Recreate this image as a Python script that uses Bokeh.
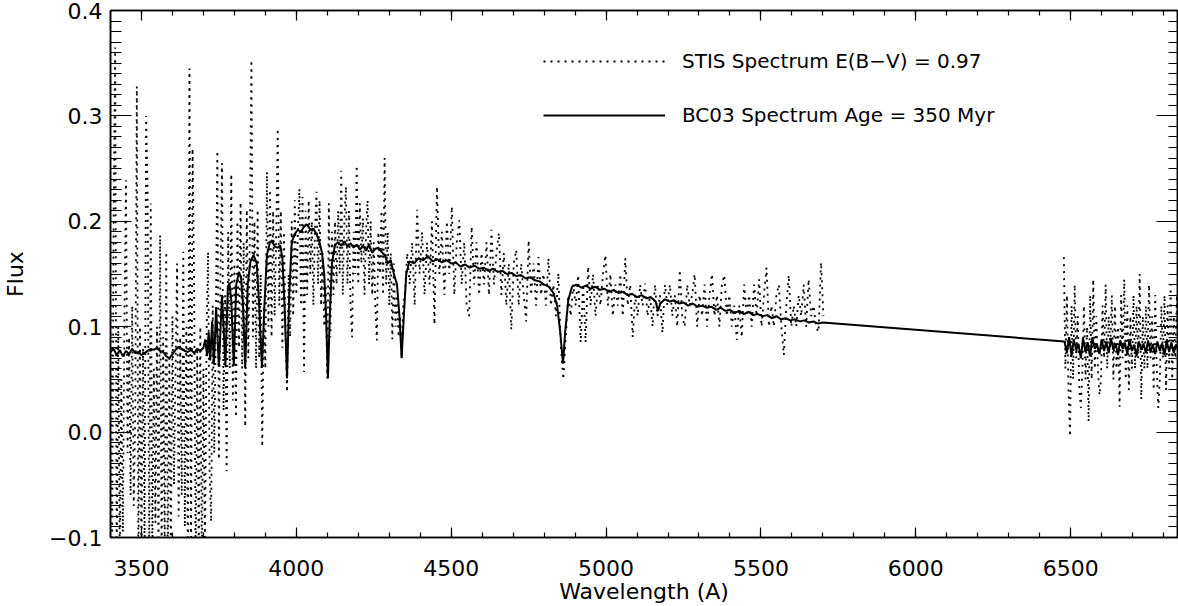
import numpy as np
from bokeh.plotting import figure
from bokeh.models import (LinearAxis, SingleIntervalTicker, Legend, LegendItem,
                          CustomJSTickFormatter)
from bokeh.embed import file_html
from bokeh.resources import INLINE

# ---------------- data ----------------
# STIS spectrum: fluxes on uniform pixel grids (start wavelength, step in A)
stis_seg1_start, stis_seg1_step = 3400, 5
stis_seg1_flux = [
    0.12, -0.13, 0.20, 0.365, -0.13, 0.10, -0.12, 0.05, -0.095, 0.11,
    0.239, -0.02, 0.09, -0.06, 0.12, -0.07, 0.02, 0.328, -0.13, 0.10,
    -0.12, 0.08, -0.11, 0.300, 0.227, -0.13, 0.217, -0.12, 0.06, -0.086,
    0.10, -0.13, 0.187, -0.12, 0.09, -0.11, 0.171, -0.13, 0.07, -0.12,
    0.11, -0.05, 0.06, 0.160, -0.08, 0.09, -0.06, 0.171, -0.09, 0.10,
    -0.13, 0.345, -0.12, 0.269, 0.141, -0.13, 0.08, -0.12, 0.10, -0.13,
    0.06, -0.11, 0.09, 0.171, -0.04, -0.085, 0.12, -0.02, 0.10, 0.267,
]
stis_seg2_start, stis_seg2_step = 3750, 5
stis_seg2_flux = [
    -0.026, 0.15, 0.255, 0.02, 0.13, -0.037, 0.19, 0.06, 0.245, 0.03,
    0.16, 0.014, 0.20, 0.08, 0.218, 0.06, 0.18, 0.005, 0.211, 0.07,
    0.19, 0.353, 0.09, 0.20, 0.06, 0.211, 0.07, 0.15, -0.014, 0.12,
    0.06, 0.247, 0.10, 0.23, 0.09, 0.21, 0.11, 0.19, 0.288, 0.12,
    0.21, 0.08, 0.19, 0.10, 0.038, 0.15, 0.09, 0.20, 0.11, 0.22,
    0.13, 0.19, 0.231, 0.12, 0.223, 0.057, 0.21, 0.13, 0.22, 0.15,
    0.20, 0.12, 0.19, 0.228, 0.14, 0.22, 0.12, 0.17, 0.10, 0.14,
    0.051, 0.217, 0.09, 0.19, 0.13, 0.20, 0.14, 0.21, 0.15, 0.248,
    0.13, 0.20, 0.233, 0.14, 0.21, 0.12, 0.09, 0.19, 0.15, 0.253,
    0.14, 0.217, 0.16, 0.203, 0.13, 0.19, 0.22, 0.14, 0.20, 0.13,
    0.18, 0.12, 0.087, 0.19, 0.15, 0.21, 0.13, 0.26, 0.14, 0.19,
    0.12, 0.17, 0.088, 0.16, 0.10, 0.13, 0.09, 0.11, 0.07, 0.12,
]
stis_seg3_start, stis_seg3_step = 4350, 8
stis_seg3_flux = [
    0.13, 0.17, 0.14, 0.18, 0.12, 0.211, 0.15, 0.19, 0.13, 0.18,
    0.14, 0.20, 0.102, 0.233, 0.15, 0.19, 0.13, 0.20, 0.15, 0.214,
    0.13, 0.18, 0.201, 0.14, 0.18, 0.12, 0.11, 0.195, 0.14, 0.18,
    0.13, 0.17, 0.14, 0.18, 0.13, 0.192, 0.14, 0.17, 0.189, 0.13,
    0.17, 0.12, 0.16, 0.097, 0.16, 0.173, 0.12, 0.16, 0.13, 0.105,
    0.182, 0.13, 0.16, 0.12, 0.166, 0.13, 0.15, 0.12, 0.165, 0.12,
    0.14, 0.11, 0.151, 0.08, 0.05, 0.09, 0.13, 0.11, 0.14, 0.12,
    0.149, 0.085, 0.14, 0.085, 0.157, 0.12, 0.15, 0.11, 0.14, 0.12,
    0.15, 0.168, 0.12, 0.15, 0.11, 0.14, 0.12, 0.15, 0.11, 0.165,
    0.12, 0.14, 0.09, 0.13, 0.11, 0.14, 0.12, 0.141, 0.11, 0.13,
    0.10, 0.14, 0.11, 0.13, 0.094, 0.14, 0.12, 0.14, 0.11, 0.13,
    0.10, 0.154, 0.11, 0.10, 0.14, 0.12, 0.13, 0.15, 0.10, 0.13,
    0.11, 0.14, 0.10, 0.13, 0.15, 0.11, 0.13, 0.10, 0.14, 0.149,
    0.11, 0.13, 0.10, 0.12, 0.0875, 0.12, 0.09, 0.14, 0.11, 0.13,
    0.10, 0.14, 0.11, 0.145, 0.10, 0.13, 0.156, 0.10, 0.12, 0.10,
    0.13, 0.14, 0.10, 0.073, 0.12, 0.149, 0.10, 0.12, 0.10, 0.13,
    0.11, 0.14, 0.10, 0.145, 0.11, 0.12, 0.10, 0.095, 0.161, 0.11,
]
stis_red_start, stis_red_step = 6478, 5
stis_red_flux = [
    0.166, 0.06, 0.13, 0.04, -0.004, 0.12, 0.05, 0.14, 0.07, 0.11,
    0.04, 0.023, 0.06, 0.12, 0.05, 0.10, 0.010, 0.13, 0.05, 0.145,
    0.06, 0.11, 0.06, 0.035, 0.05, 0.12, 0.07, 0.14, 0.06, 0.11,
    0.08, 0.13, 0.05, 0.12, 0.06, 0.10, 0.024, 0.13, 0.07, 0.145,
    0.05, 0.12, 0.04, 0.11, 0.06, 0.13, 0.06, 0.12, 0.07, 0.15,
    0.031, 0.11, 0.06, 0.12, 0.06, 0.14, 0.07, 0.11, 0.04, 0.13,
    0.06, 0.023, 0.05, 0.12, 0.07, 0.13, 0.04, 0.12, 0.06, 0.14,
    0.05, 0.11, 0.07, 0.13, 0.06,
]

# BC03 model spectrum (wavelength, flux)
bc03_wave = [
    3400, 3410, 3420, 3430, 3440, 3450, 3460, 3470, 3480, 3490,
    3500, 3510, 3520, 3530, 3540, 3550, 3560, 3570, 3580, 3590,
    3600, 3610, 3620, 3630, 3640, 3650, 3660, 3670, 3680, 3690,
    3700, 3706, 3712, 3717, 3722, 3728, 3734, 3741, 3750, 3760,
    3771, 3779, 3784, 3790, 3798, 3806, 3815, 3822, 3828, 3835,
    3843, 3852, 3862, 3872, 3880, 3889, 3897, 3905, 3915, 3922,
    3930, 3940, 3948, 3955, 3962, 3970, 3977, 3985, 3995, 4005,
    4015, 4025, 4035, 4045, 4055, 4065, 4075, 4083, 4090, 4096,
    4102, 4108, 4115, 4125, 4135, 4145, 4155, 4165, 4175, 4185,
    4195, 4205, 4215, 4225, 4235, 4245, 4255, 4265, 4275, 4285,
    4295, 4305, 4315, 4325, 4333, 4340, 4347, 4355, 4365, 4380,
    4395, 4410, 4425, 4440, 4455, 4470, 4485, 4500, 4515, 4530,
    4545, 4560, 4575, 4590, 4605, 4620, 4635, 4650, 4665, 4680,
    4695, 4710, 4725, 4740, 4755, 4770, 4785, 4800, 4815, 4830,
    4842, 4852, 4861, 4868, 4878, 4890, 4905, 4920, 4935, 4950,
    4965, 4980, 4995, 5010, 5025, 5040, 5055, 5070, 5085, 5100,
    5115, 5130, 5145, 5160, 5168, 5175, 5190, 5205, 5220, 5235,
    5250, 5265, 5280, 5295, 5310, 5325, 5340, 5355, 5370, 5385,
    5400, 5415, 5430, 5445, 5460, 5475, 5490, 5505, 5520, 5535,
    5550, 5565, 5580, 5595, 5610, 5625, 5640, 5655, 5670, 5685,
    5700, 6480, 6488, 6495, 6503, 6510, 6518, 6525, 6533, 6540,
    6548, 6555, 6563, 6570, 6578, 6585, 6593, 6600, 6608, 6615,
    6623, 6630, 6638, 6645, 6653, 6660, 6668, 6675, 6683, 6690,
    6698, 6705, 6713, 6720, 6728, 6735, 6743, 6750, 6758, 6765,
    6773, 6780, 6788, 6795, 6803, 6810, 6818, 6825, 6833, 6840,
    6848,
]
bc03_flux = [
    0.076, 0.079, 0.073, 0.078, 0.072, 0.077, 0.074, 0.079, 0.075, 0.076,
    0.073, 0.075, 0.077, 0.079, 0.078, 0.080, 0.077, 0.076, 0.072, 0.070,
    0.074, 0.078, 0.081, 0.079, 0.077, 0.076, 0.078, 0.075, 0.079, 0.077,
    0.080, 0.088, 0.072, 0.095, 0.068, 0.105, 0.064, 0.118, 0.062, 0.130,
    0.063, 0.138, 0.141, 0.125, 0.063, 0.140, 0.152, 0.145, 0.120, 0.061,
    0.140, 0.162, 0.168, 0.160, 0.120, 0.061, 0.120, 0.168, 0.180, 0.182,
    0.176, 0.175, 0.177, 0.165, 0.120, 0.051, 0.130, 0.180, 0.188, 0.192,
    0.190, 0.195, 0.197, 0.192, 0.193, 0.188, 0.180, 0.170, 0.150, 0.110,
    0.051, 0.110, 0.160, 0.178, 0.180, 0.177, 0.181, 0.176, 0.179, 0.175,
    0.178, 0.173, 0.177, 0.172, 0.178, 0.170, 0.174, 0.175, 0.171, 0.168,
    0.160, 0.163, 0.150, 0.140, 0.110, 0.070, 0.110, 0.150, 0.162, 0.160,
    0.165, 0.163, 0.167, 0.162, 0.164, 0.161, 0.163, 0.160, 0.161, 0.157,
    0.159, 0.156, 0.158, 0.155, 0.156, 0.153, 0.155, 0.152, 0.153, 0.150,
    0.151, 0.148, 0.149, 0.146, 0.147, 0.144, 0.143, 0.140, 0.138, 0.132,
    0.120, 0.095, 0.065, 0.095, 0.125, 0.138, 0.140, 0.137, 0.139, 0.136,
    0.138, 0.135, 0.136, 0.133, 0.135, 0.132, 0.133, 0.130, 0.131, 0.128,
    0.130, 0.127, 0.128, 0.124, 0.115, 0.122, 0.126, 0.124, 0.125, 0.122,
    0.123, 0.120, 0.122, 0.119, 0.120, 0.118, 0.119, 0.116, 0.118, 0.115,
    0.116, 0.113, 0.115, 0.112, 0.114, 0.111, 0.112, 0.110, 0.111, 0.108,
    0.110, 0.107, 0.108, 0.106, 0.107, 0.105, 0.106, 0.104, 0.105, 0.103,
    0.104, 0.086, 0.075, 0.090, 0.072, 0.088, 0.078, 0.084, 0.070, 0.089,
    0.076, 0.085, 0.072, 0.090, 0.079, 0.083, 0.074, 0.088, 0.077, 0.086,
    0.075, 0.089, 0.078, 0.084, 0.073, 0.087, 0.079, 0.085, 0.074, 0.088,
    0.077, 0.083, 0.072, 0.086, 0.078, 0.084, 0.075, 0.087, 0.076, 0.083,
    0.074, 0.086, 0.077, 0.084, 0.073, 0.087, 0.076, 0.085, 0.075, 0.083,
    0.078,
]

x_ticks_major = 500
y_ticks_major = 0.1
x_title = "Wavelength (A)"
y_title = "Flux"
stis_label = "STIS Spectrum E(B\u2212V) = 0.97"
bc03_label = "BC03 Spectrum Age = 350 Myr"


def pixel_grid(start, step, values):
    return [start + step * i for i in range(len(values))]


stis_blue_w = (pixel_grid(stis_seg1_start, stis_seg1_step, stis_seg1_flux)
               + pixel_grid(stis_seg2_start, stis_seg2_step, stis_seg2_flux)
               + pixel_grid(stis_seg3_start, stis_seg3_step, stis_seg3_flux))
stis_blue_f = stis_seg1_flux + stis_seg2_flux + stis_seg3_flux
stis_red_w = pixel_grid(stis_red_start, stis_red_step, stis_red_flux)

FONT = "DejaVu Sans"

p = figure(width=1178, height=606, x_range=(3400, 6845), y_range=(-0.1, 0.4),
           output_backend="svg", toolbar_location=None,
           min_border_left=110, min_border_right=1, min_border_top=10,
           min_border_bottom=68)
p.xgrid.visible = False
p.ygrid.visible = False
p.outline_line_color = "black"
p.outline_line_width = 1.5
p.background_fill_color = "white"
p.border_fill_color = "white"

r_stis = p.line(stis_blue_w, stis_blue_f, line_color="black", line_width=1.8,
                line_dash="2 5")
p.line(stis_red_w, stis_red_flux, line_color="black", line_width=1.8, line_dash="2 5")
r_bc = p.line(bc03_wave, bc03_flux, line_color="black", line_width=2)

yfmt = CustomJSTickFormatter(code="""
const v = Math.abs(tick) < 1e-9 ? 0 : tick;
return v.toFixed(1).replace('-', '\u2212');
""")


def style_axis(ax, major_in, minor_in, labels=True):
    ax.axis_line_color = "black"
    ax.axis_line_width = 1.5
    ax.major_tick_line_color = "black"
    ax.minor_tick_line_color = "black"
    ax.major_tick_line_width = 1.2
    ax.minor_tick_line_width = 1.2
    ax.major_tick_in = major_in
    ax.major_tick_out = 0
    ax.minor_tick_in = minor_in
    ax.minor_tick_out = 0
    if labels:
        ax.major_label_text_font = FONT
        ax.major_label_text_font_size = "22px"
        ax.major_label_text_color = "black"
        ax.axis_label_text_font = FONT
        ax.axis_label_text_font_size = "22px"
        ax.axis_label_text_font_style = "normal"
        ax.axis_label_text_color = "black"
    else:
        ax.major_label_text_font_size = "1px"
        ax.major_label_text_color = None
        ax.major_label_standoff = 0
        ax.axis_label = None


xb = p.xaxis[0]
xb.ticker = SingleIntervalTicker(interval=x_ticks_major, num_minor_ticks=5)
xb.axis_label = x_title
xb.major_label_standoff = 22
xb.axis_label_standoff = 0
style_axis(xb, 10, 5)

yl = p.yaxis[0]
yl.ticker = SingleIntervalTicker(interval=y_ticks_major, num_minor_ticks=10)
yl.formatter = yfmt
yl.axis_label = y_title
yl.major_label_standoff = 8
yl.axis_label_standoff = 18
style_axis(yl, 21, 11)

xt = LinearAxis(ticker=SingleIntervalTicker(interval=x_ticks_major, num_minor_ticks=5))
style_axis(xt, 10, 5, labels=False)
p.add_layout(xt, "above")

yr = LinearAxis(ticker=SingleIntervalTicker(interval=y_ticks_major, num_minor_ticks=10))
style_axis(yr, 21, 9, labels=False)
p.add_layout(yr, "right")

legend = Legend(items=[LegendItem(label=stis_label, renderers=[r_stis]),
                       LegendItem(label=bc03_label, renderers=[r_bc])],
                location=(433, 407), glyph_width=122, glyph_height=30,
                label_height=20, label_standoff=17, spacing=24, padding=0,
                margin=0, background_fill_alpha=0, border_line_alpha=0,
                label_text_font=FONT, label_text_font_size="20px",
                label_text_color="black")
p.add_layout(legend)

open("out.html", "w", encoding="utf-8").write(file_html(p, INLINE))
